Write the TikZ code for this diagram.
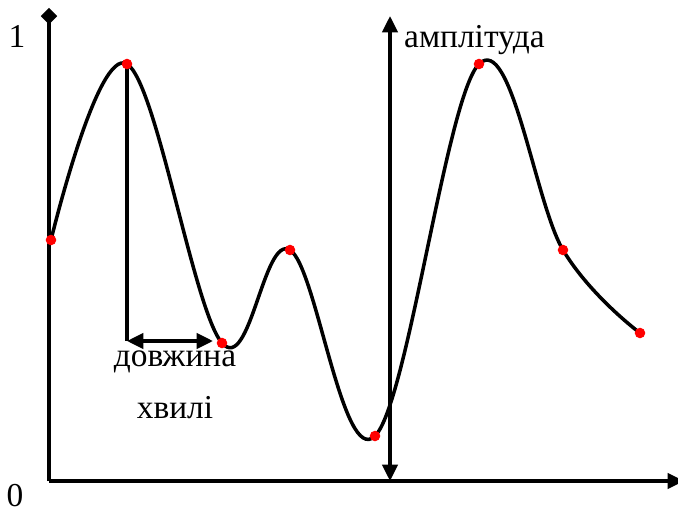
\documentclass[tikz,border=0pt]{standalone}
\usepackage{fontspec}
\setmainfont{Liberation Serif}
\usetikzlibrary{arrows.meta}

\tikzset{
  axis/.style={line width=3pt},
  wave/.style={line width=3pt},
  marker/.style={line width=3pt},
  tip/.style={Triangle[length=14pt, width=13pt]},
  lbl/.style={font=\fontsize{28.5}{34}\selectfont, inner sep=0pt},
}

\begin{document}
\begin{tikzpicture}[x=0.03cm, y=-0.03cm]
  \useasboundingbox (0,0) rectangle (678,513);

  % ── Axes ──────────────────────────────────────────────────────────
  \coordinate (O)  at (49, 481);
  \coordinate (Y)  at (49, 8);
  \coordinate (X)  at (684, 481);

  \draw[axis, -{Diamond[length=14pt, width=14pt]}] (O) -- (Y);
  \draw[axis, -{Triangle[length=14pt, width=13pt]}] (O) -- (X);

  \node[lbl] (one)  at (17, 36)  {1};
  \node[lbl] (zero) at (15, 496) {0};

  % ── Wave through the sample points ────────────────────────────────
  \coordinate (P1) at (51,  240);
  \coordinate (P2) at (127, 64);
  \coordinate (P3) at (222, 343);
  \coordinate (P4) at (290, 250);
  \coordinate (P5) at (375, 436);
  \coordinate (P6) at (479, 64);
  \coordinate (P7) at (563, 250);
  \coordinate (P8) at (640, 333);

  \draw[wave] plot[smooth, tension=0.62] coordinates
    {(P1) (P2) (P3) (P4) (P5) (P6) (P7) (P8)};

  % ── Wavelength marker ─────────────────────────────────────────────
  \coordinate (W0) at (127, 341);
  \coordinate (W1) at (213, 341);

  \draw[marker] (P2) -- (W0);
  \draw[marker, {Triangle[length=14pt, width=13pt]}-{Triangle[length=14pt, width=13pt]}] (W0) -- (W1);

  \node[lbl] (len1) at (175, 362) {довжина};
  \node[lbl] (len2) at (175, 408) {хвилі};

  % ── Amplitude marker ──────────────────────────────────────────────
  \coordinate (A0) at (390, 481);
  \coordinate (A1) at (390, 16);

  \draw[marker, {Triangle[length=14pt, width=13pt]}-{Triangle[length=14pt, width=13pt]}] (A0) -- (A1);
  \node[lbl, anchor=west] (amp) at (404, 40) {амплітуда};

  % ── Red points ────────────────────────────────────────────────────
  \foreach \p in {P1, P2, P3, P4, P5, P6, P7, P8}
    \fill[red] (\p) circle (4.5pt);
\end{tikzpicture}
\end{document}
